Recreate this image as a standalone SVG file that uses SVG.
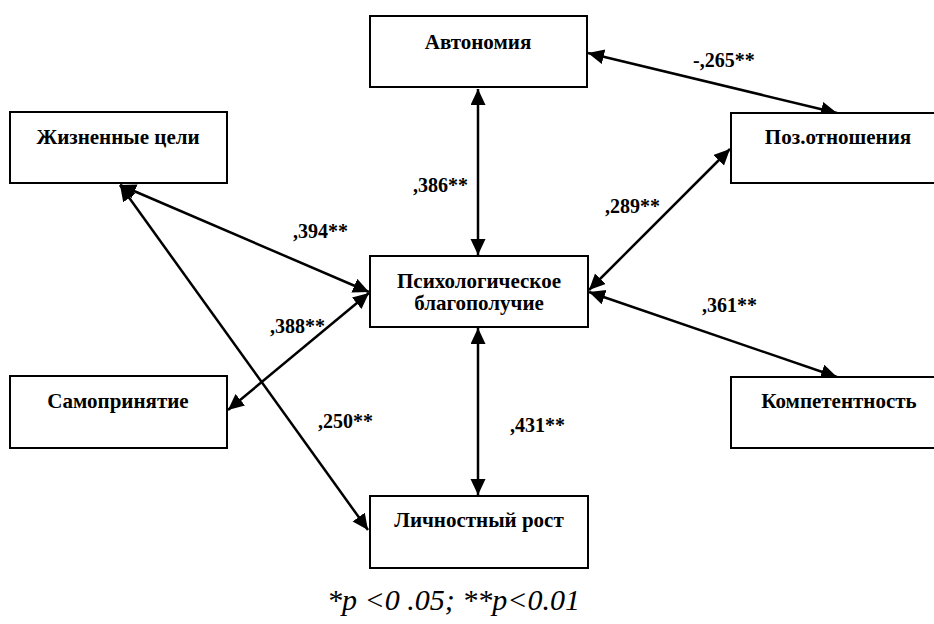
<svg xmlns="http://www.w3.org/2000/svg" width="934" height="624" viewBox="0 0 934 624">
<style>
.box{fill:#fff;stroke:#000;stroke-width:2}
text{font-family:'Liberation Serif','Times New Roman',Tinos,'DejaVu Serif',serif;fill:#000}
.lbl{font-weight:bold;font-size:21px;text-anchor:middle}
.num{font-weight:bold;font-size:20px}
.con{stroke:#000;stroke-width:2.5;fill:none;marker-start:url(#ah);marker-end:url(#ah)}
.foot{font-style:italic;font-size:30px;text-anchor:end}
</style>
<defs>
<marker id="ah" markerUnits="userSpaceOnUse" markerWidth="17" markerHeight="16" refX="16" refY="7.5" orient="auto-start-reverse">
<path d="M0,0 L16,7.5 L0,15 z" fill="#000"/>
</marker>
</defs>
<g id="connectors">
<line class="con" x1="478" y1="89" x2="478" y2="255"/>
<line class="con" x1="478" y1="328" x2="478" y2="495"/>
<line class="con" x1="588" y1="53" x2="837" y2="113"/>
<line class="con" x1="589" y1="290" x2="730" y2="149"/>
<line class="con" x1="589" y1="292" x2="837" y2="377"/>
<line class="con" x1="120" y1="185" x2="369" y2="292"/>
<line class="con" x1="120" y1="185" x2="368" y2="530"/>
<line class="con" x1="228" y1="410" x2="369" y2="293"/>
</g>
<g id="avtonomiya"><rect class="box" x="370" y="16" width="217" height="71"/><text class="lbl" x="478" y="49">Автономия</text></g>
<g id="zhiznennye-tseli"><rect class="box" x="10" y="112" width="217" height="71"/><text class="lbl" x="118" y="144">Жизненные цели</text></g>
<g id="poz-otnosheniya"><rect class="box" x="731" y="113" width="215" height="70"/><text class="lbl" x="838" y="144">Поз.отношения</text></g>
<g id="psikh-blagopoluchie"><rect class="box" x="370" y="256" width="218" height="71"/><text class="lbl" x="479" y="288">Психологическое</text><text class="lbl" x="479" y="310">благополучие</text></g>
<g id="samoprinyatie"><rect class="box" x="10" y="376" width="217" height="72"/><text class="lbl" x="118" y="408">Самопринятие</text></g>
<g id="kompetentnost"><rect class="box" x="731" y="377" width="215" height="71"/><text class="lbl" x="839" y="408">Компетентность</text></g>
<g id="lichnostny-rost"><rect class="box" x="370" y="496" width="218" height="72"/><text class="lbl" x="479" y="527">Личностный рост</text></g>
<g id="labels">
<text class="num" x="693" y="67">-,265**</text>
<text class="num" x="413" y="192">,386**</text>
<text class="num" x="293" y="238">,394**</text>
<text class="num" x="270" y="333">,388**</text>
<text class="num" x="605" y="213">,289**</text>
<text class="num" x="702" y="312">,361**</text>
<text class="num" x="318" y="428">,250**</text>
<text class="num" x="510" y="432">,431**</text>
</g>
<text class="foot" x="580" y="610">*p &lt;0 .05; **p&lt;0.01</text>
</svg>
